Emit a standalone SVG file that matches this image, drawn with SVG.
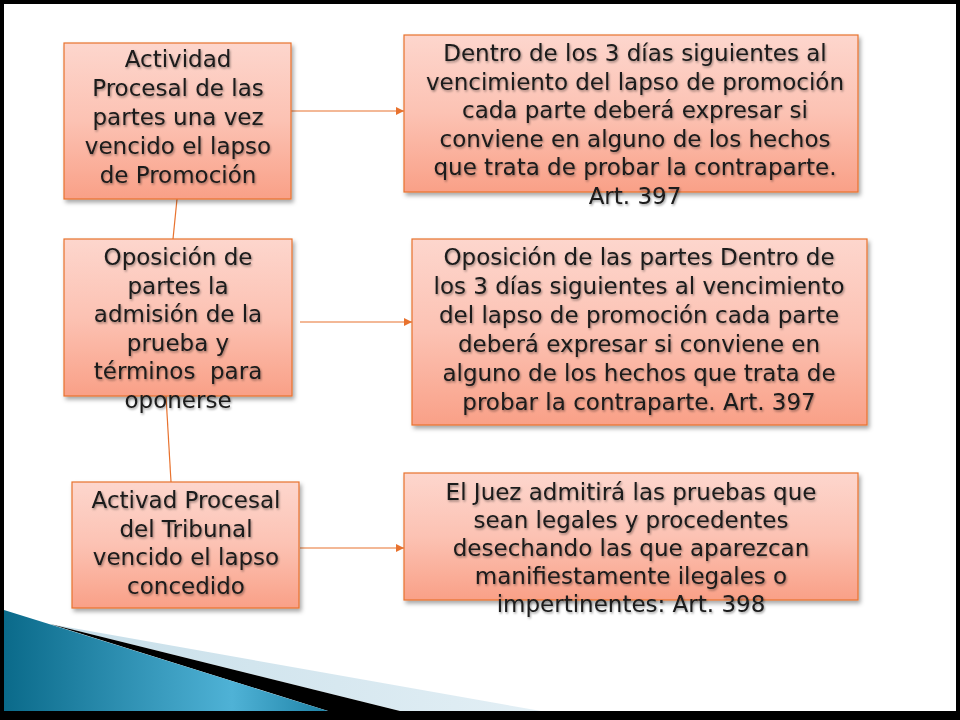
<svg xmlns="http://www.w3.org/2000/svg" width="960" height="720" viewBox="0 0 960 720">
<style>
.box{fill:url(#bg);stroke:#E8722E;stroke-width:1.2;filter:url(#bsh)}
.t{font-family:"DejaVu Sans",sans-serif;font-size:23px;fill:#1a1a1a;text-anchor:middle;filter:url(#tsh)}
.c{stroke:#E8722E;stroke-width:1.2;fill:none}
</style>
<defs>
<linearGradient id="bg" x1="0" y1="0" x2="0" y2="1">
<stop offset="0" stop-color="#FDD6CD"/>
<stop offset="0.5" stop-color="#FCC2B3"/>
<stop offset="1" stop-color="#F9A087"/>
</linearGradient>
<linearGradient id="blue" x1="4" y1="0" x2="330" y2="0" gradientUnits="userSpaceOnUse">
<stop offset="0" stop-color="#0A6A8A"/>
<stop offset="0.7" stop-color="#4FB2D6"/>
<stop offset="1" stop-color="#1E82A6"/>
</linearGradient>
<linearGradient id="lb" x1="50" y1="0" x2="540" y2="0" gradientUnits="userSpaceOnUse">
<stop offset="0" stop-color="#C6DEE9"/>
<stop offset="1" stop-color="#E3EFF5"/>
</linearGradient>
<filter id="bsh" x="-10%" y="-10%" width="125%" height="130%">
<feDropShadow dx="2" dy="3" stdDeviation="2" flood-color="#000" flood-opacity="0.35"/>
</filter>
<filter id="tsh" x="-10%" y="-30%" width="120%" height="170%">
<feDropShadow dx="1" dy="1.5" stdDeviation="1" flood-color="#000" flood-opacity="0.4"/>
</filter>
<marker id="ah" viewBox="0 0 10 10" refX="10" refY="5" markerWidth="8" markerHeight="8" markerUnits="userSpaceOnUse" orient="auto">
<path d="M0,0 L10,5 L0,10 Z" fill="#E8722E"/>
</marker>
</defs>
<rect x="0" y="0" width="960" height="720" fill="#000"/>
<rect x="4" y="4" width="952" height="707" fill="#fff"/>
<g id="decor">
<polygon points="50,624 541,711 400,711" fill="url(#lb)"/>
<polygon points="50,624 400,711 328,711" fill="#000"/>
<polygon points="4,610 328,711 4,711" fill="url(#blue)"/>
</g>
<g id="connectors">
<line class="c" x1="291" y1="111" x2="404" y2="111" marker-end="url(#ah)"/>
<line class="c" x1="300" y1="322" x2="412" y2="322" marker-end="url(#ah)"/>
<line class="c" x1="300" y1="548" x2="404" y2="548" marker-end="url(#ah)"/>
<line class="c" x1="177" y1="199" x2="173" y2="239"/>
<line class="c" x1="166" y1="396" x2="171" y2="482"/>
</g>
<g id="n1">
<rect class="box" x="64" y="43" width="227" height="156"/>
<text class="t"><tspan x="178" y="67">Actividad</tspan><tspan x="178" y="96">Procesal de las</tspan><tspan x="178" y="125">partes una vez</tspan><tspan x="178" y="154">vencido el lapso</tspan><tspan x="178" y="183">de Promoción</tspan></text>
</g>
<g id="n2">
<rect class="box" x="404" y="35" width="454" height="157"/>
<text class="t"><tspan x="635" y="61">Dentro de los 3 días siguientes al</tspan><tspan x="635" y="89.5">vencimiento del lapso de promoción</tspan><tspan x="635" y="118">cada parte deberá expresar si</tspan><tspan x="635" y="146.5">conviene en alguno de los hechos</tspan><tspan x="635" y="175">que trata de probar la contraparte.</tspan><tspan x="635" y="203.5">Art. 397</tspan></text>
</g>
<g id="n3">
<rect class="box" x="64" y="239" width="228" height="157"/>
<text class="t" xml:space="preserve"><tspan x="178" y="265">Oposición de</tspan><tspan x="178" y="293.6">partes la</tspan><tspan x="178" y="322.2">admisión de la</tspan><tspan x="178" y="350.8">prueba y</tspan><tspan x="178" y="379.4">términos  para</tspan><tspan x="178" y="408">oponerse</tspan></text>
</g>
<g id="n4">
<rect class="box" x="412" y="239" width="455" height="186"/>
<text class="t"><tspan x="639" y="265">Oposición de las partes Dentro de</tspan><tspan x="639" y="294">los 3 días siguientes al vencimiento</tspan><tspan x="639" y="323">del lapso de promoción cada parte</tspan><tspan x="639" y="352">deberá expresar si conviene en</tspan><tspan x="639" y="381">alguno de los hechos que trata de</tspan><tspan x="639" y="410">probar la contraparte. Art. 397</tspan></text>
</g>
<g id="n5">
<rect class="box" x="72" y="482" width="227" height="126"/>
<text class="t"><tspan x="186" y="508">Activad Procesal</tspan><tspan x="186" y="536.5">del Tribunal</tspan><tspan x="186" y="565">vencido el lapso</tspan><tspan x="186" y="593.5">concedido</tspan></text>
</g>
<g id="n6">
<rect class="box" x="404" y="473" width="454" height="127"/>
<text class="t"><tspan x="631" y="500">El Juez admitirá las pruebas que</tspan><tspan x="631" y="528">sean legales y procedentes</tspan><tspan x="631" y="556">desechando las que aparezcan</tspan><tspan x="631" y="584">manifiestamente ilegales o</tspan><tspan x="631" y="612">impertinentes: Art. 398</tspan></text>
</g>
</svg>
